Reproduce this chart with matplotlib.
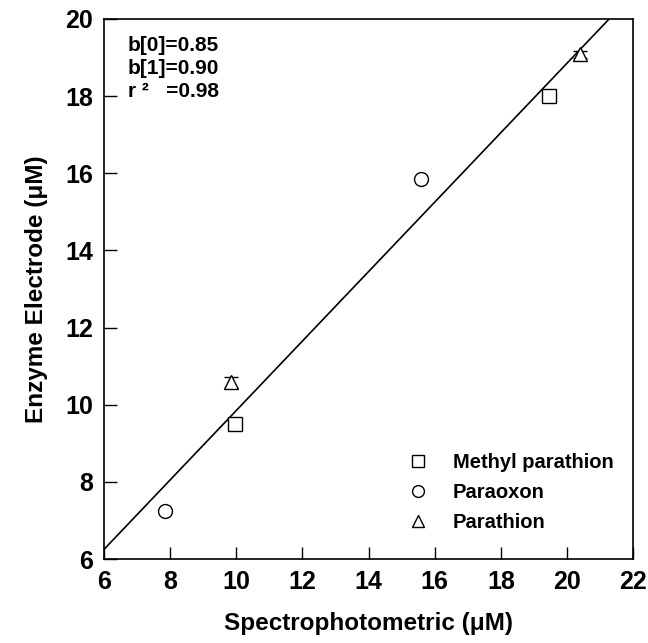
import matplotlib
matplotlib.use("Agg")
import matplotlib.pyplot as plt
from matplotlib.lines import Line2D
import numpy as np

plt.rcParams["font.family"] = ["Liberation Sans", "DejaVu Sans"]
plt.rcParams["font.weight"] = "bold"

# datos
methyl_x = [9.95, 19.45]
methyl_y = [9.5, 18.0]
paraoxon_x = [7.85, 15.6]
paraoxon_y = [7.25, 15.85]
parathion_x = [9.83, 20.4]
parathion_y = [10.58, 19.08]
parathion_err = [0.15, 0.1]

b0 = 0.85
b1 = 0.90
r2 = 0.98

xticks = [6, 8, 10, 12, 14, 16, 18, 20, 22]
yticks = [6, 8, 10, 12, 14, 16, 18, 20]

fig = plt.figure(figsize=(6.48, 6.43), dpi=100)
ax = fig.add_axes([0.1605, 0.1306, 0.8165, 0.84])

# recta de regresion
xl = np.linspace(6, 22, 200)
ax.plot(xl, b0 + b1 * xl, color="black", linewidth=1.2)

ax.plot(methyl_x, methyl_y, "s", mfc="white", mec="black", ms=9.5, mew=1.0,
        linestyle="none")
ax.plot(paraoxon_x, paraoxon_y, "o", mfc="white", mec="black", ms=10, mew=1.0,
        linestyle="none")
ax.errorbar(parathion_x, parathion_y, yerr=parathion_err, fmt="^", mfc="white",
            mec="black", ecolor="black", ms=10, mew=1.0, capsize=5,
            elinewidth=1.0)

ax.set_xlim(6, 22)
ax.set_ylim(6, 20)
ax.set_xticks(xticks)
ax.set_yticks(yticks)
ax.tick_params(direction="in", length=9, width=1, labelsize=18, pad=8,
               top=False, right=False)
for lbl in ax.get_xticklabels() + ax.get_yticklabels():
    lbl.set_fontweight("bold")

ax.set_xlabel("Spectrophotometric (\u03bcM)", fontsize=17.5, fontweight="bold",
              labelpad=13)
ax.set_ylabel("Enzyme Electrode (\u03bcM)", fontsize=17.5, fontweight="bold",
              labelpad=12)

ax.text(0.045, 0.968, f"b[0]={b0:.2f}\nb[1]={b1:.2f}\nr \u00b2   ={r2:.2f}",
        transform=ax.transAxes, ha="left", va="top", fontsize=15,
        fontweight="bold", linespacing=1.25)

handles = [
    Line2D([], [], marker="s", mfc="white", mec="black", ms=8, mew=1.0,
           linestyle="none"),
    Line2D([], [], marker="o", mfc="white", mec="black", ms=8.5, mew=1.0,
           linestyle="none"),
    Line2D([], [], marker="^", mfc="white", mec="black", ms=8.5, mew=1.0,
           linestyle="none"),
]
labels = ["Methyl parathion", "Paraoxon", "Parathion"]
leg = ax.legend(handles, labels, loc="upper left", bbox_to_anchor=(0.575, 0.196),
                frameon=False, fontsize=14.5, handlelength=1.0,
                handletextpad=1.2, labelspacing=0.55, borderpad=0,
                borderaxespad=0)
for t in leg.get_texts():
    t.set_fontweight("bold")

for s in ax.spines.values():
    s.set_linewidth(1.2)

fig.savefig("out.png", dpi=100)
